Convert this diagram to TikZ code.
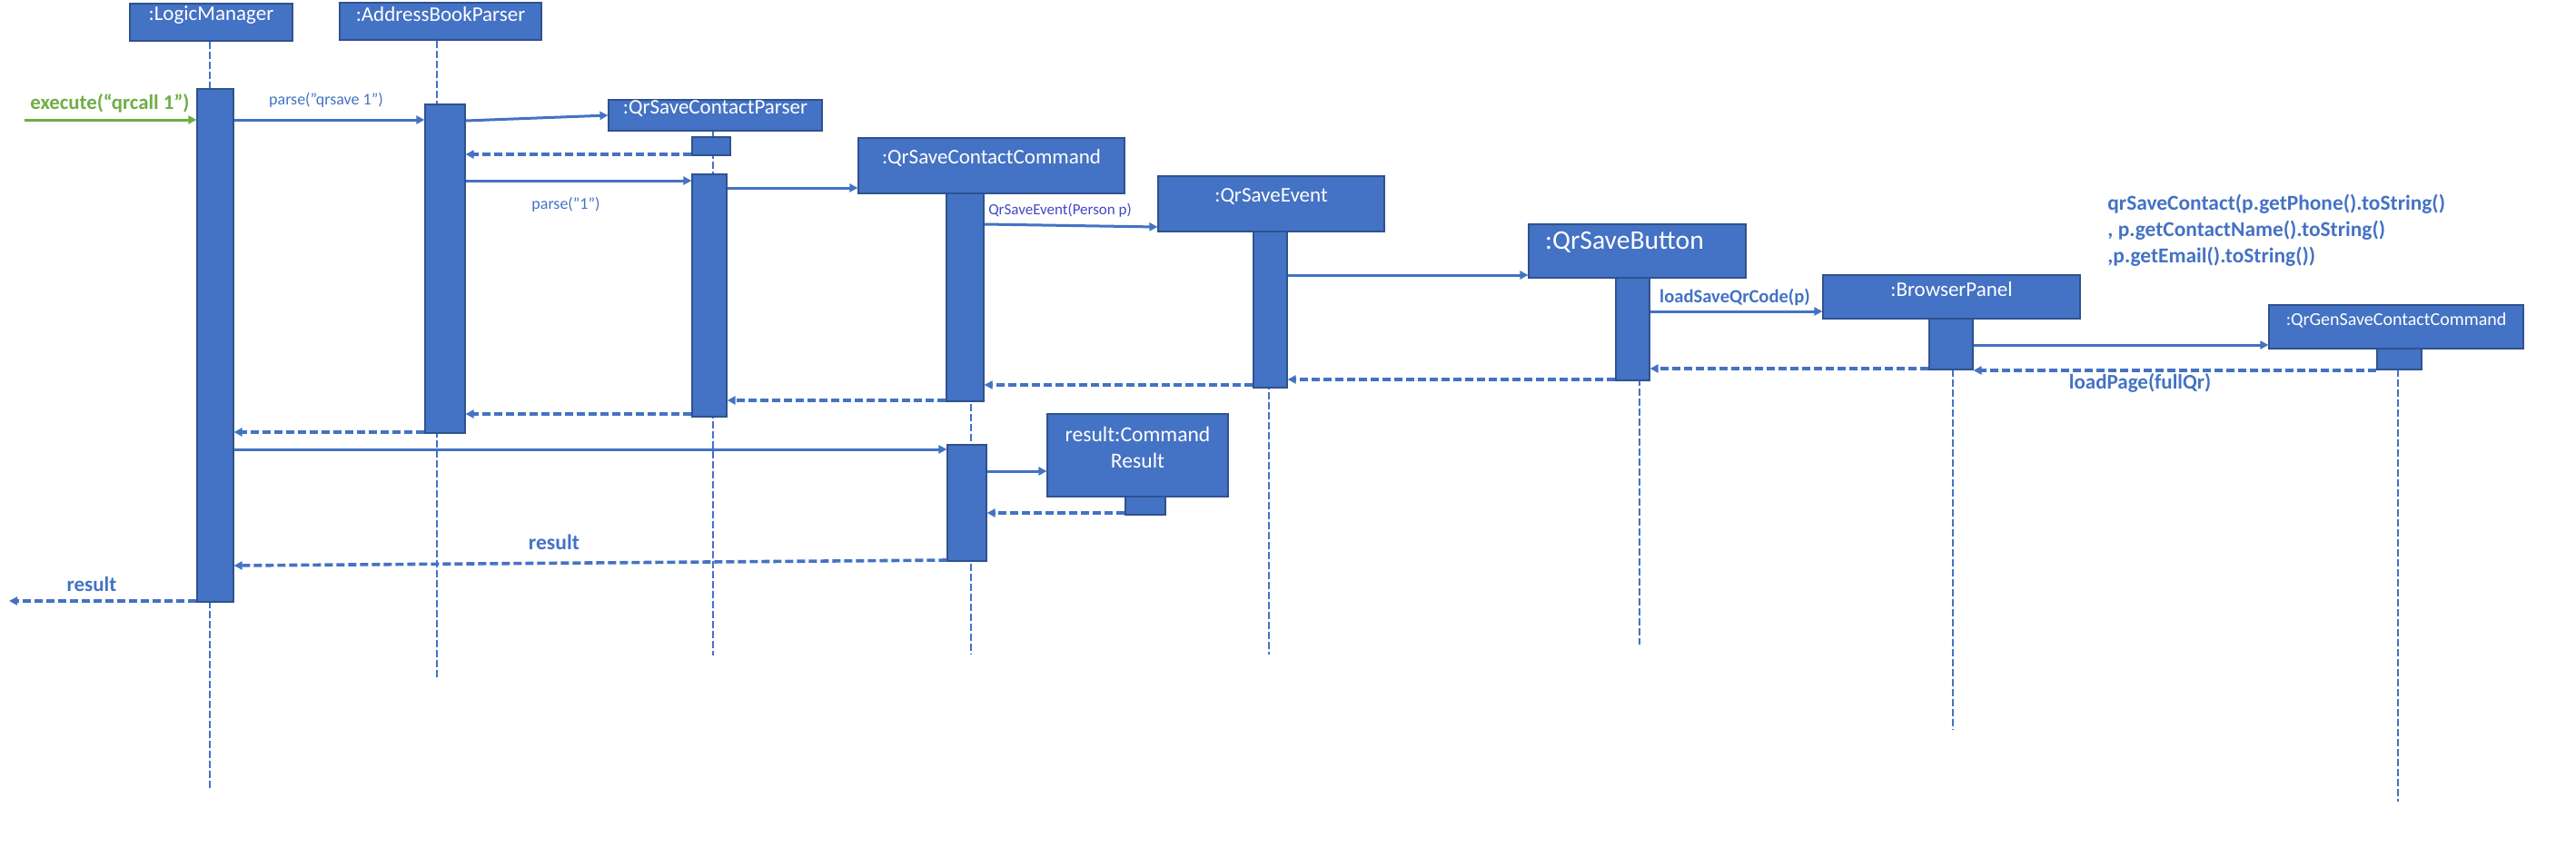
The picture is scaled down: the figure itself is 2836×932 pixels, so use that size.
\documentclass[tikz,border=0pt]{standalone}
\usepackage{fontspec}
\setmainfont{Carlito}
\usetikzlibrary{arrows.meta,fit}
\definecolor{obl}{HTML}{4472C4}
\definecolor{obd}{HTML}{2F528F}
\definecolor{ogr}{HTML}{70AD47}
\definecolor{evc}{HTML}{4348C8}
\begin{document}
\begin{tikzpicture}[x=0.5pt,y=-0.5pt,
  hdr/.style={draw=obd, fill=obl, line width=0.6pt, inner sep=0pt, text depth=0pt, text=white, font=\fontsize{11.5}{14}\selectfont},
  act/.style={draw=obd, fill=obl, line width=0.6pt, inner sep=0pt},
  life/.style={draw=obl, line width=1.1pt, dash pattern=on 4pt off 1.5pt},
  msg/.style={draw=obl, line width=1.5pt, -{Triangle[length=4.5pt,width=4.5pt]}},
  ret/.style={draw=obl, line width=1.8pt, dash pattern=on 4.5pt off 2pt, -{Triangle[length=4.5pt,width=4.5pt]}},
  lbl/.style={text=obl, font=\fontsize{9}{11}\selectfont, anchor=base, inner sep=0pt},
  blbl/.style={text=obl, font=\bfseries\fontsize{10.3}{12}\selectfont, anchor=base, inner sep=0pt},
]
\useasboundingbox (0,0) rectangle (2836,932);

% header boxes
\node[hdr, fit={(143,4)(322,45)}] (lm) {:LogicManager};
\node[hdr, fit={(374,3)(596,44)}] (abp) {:AddressBookParser};
\node[hdr, fit={(670,110)(905,144)}] (qscp) {:QrSaveContactParser};
\node[hdr, fit={(945,152)(1238,213)}] (qscc) {:QrSaveContactCommand};
\node[hdr, fit={(1275,194)(1524,255)}] (qse) {:QrSaveEvent};
\node[hdr, fit={(1683,247)(1922,306)}, font=\fontsize{14.8}{17}\selectfont] (qsb) {\kern-14pt:QrSaveButton};
\node[hdr, fit={(2007,303)(2290,351)}] (bp) {:BrowserPanel};
\node[hdr, fit={(2498,336)(2778,384)}, font=\fontsize{10}{12}\selectfont] (qrg) {:QrGenSaveContactCommand};
\node[hdr, fit={(1153,456)(1352,547)}, align=center, font=\fontsize{11.8}{14.5}\selectfont] (res) {result:Command\\Result};

% lifelines
\coordinate (lmEnd) at (231,868);
\coordinate (abpEnd) at (481,746);
\coordinate (qscpEnd) at (785,722);
\coordinate (qsccEnd) at (1069,721);
\coordinate (qseEnd) at (1397,721);
\coordinate (qsbEnd) at (1805,710);
\coordinate (bpEnd) at (2150,804);
\coordinate (qrgEnd) at (2640,883);
\draw[life] (lm.south -| lmEnd) -- (lmEnd);
\draw[life] (abp.south -| abpEnd) -- (abpEnd);
\draw[life] (qscp.south -| qscpEnd) -- (qscpEnd);
\draw[life] (qscc.south -| qsccEnd) -- (qsccEnd);
\draw[life] (qse.south -| qseEnd) -- (qseEnd);
\draw[life] (qsb.south -| qsbEnd) -- (qsbEnd);
\draw[life] (bp.south -| bpEnd) -- (bpEnd);
\draw[life] (qrg.south -| qrgEnd) -- (qrgEnd);

% activations
\node[act, fit={(217,98)(257,663)}] (lmA) {};
\node[act, fit={(468,115)(512,477)}] (abpA) {};
\node[act, fit={(762,151)(804,171)}] (qscpS) {};
\node[act, fit={(762,192)(800,459)}] (qscpA) {};
\node[act, fit={(1042,213)(1083,442)}] (qsccA) {};
\node[act, fit={(1043,490)(1086,618)}] (qsccB) {};
\node[act, fit={(1380,255)(1417,427)}] (qseA) {};
\node[act, fit={(1779,306)(1816,419)}] (qsbA) {};
\node[act, fit={(2124,351)(2172,407)}] (bpA) {};
\node[act, fit={(2617,384)(2666,407)}] (qrgA) {};
\node[act, fit={(1239,547)(1283,567)}] (resA) {};

% message levels
\foreach \v in {132,133,170,199,207,247,250,303,343,380,406,408,418,424,441,456,476,495,519,565,617,623,662}
  {\coordinate (y\v) at (0,\v);}
\coordinate (exStart) at (27,132);
\coordinate (leftEnd) at (10,662);

% messages
\draw[msg, draw=ogr] (exStart) -- (lmA.west |- y132);
\draw[msg] (lmA.east |- y132) -- (abpA.west |- y132);
\draw[msg] (abpA.east |- y133) -- (qscp.west);
\draw[ret] (qscpS.west |- y170) -- (abpA.east |- y170);
\draw[msg] (abpA.east |- y199) -- (qscpA.west |- y199);
\draw[msg] (qscpA.east |- y207) -- (qscc.west |- y207);
\draw[msg] (qsccA.east |- y247) -- (qse.west |- y250);
\draw[msg] (qseA.east |- y303) -- (qsb.west |- y303);
\draw[msg] (qsbA.east |- y343) -- (bp.west |- y343);
\draw[msg] (bpA.east |- y380) -- (qrg.west |- y380);
\draw[ret] (qrgA.west |- y408) -- (bpA.east |- y408);
\draw[ret] (bpA.west |- y406) -- (qsbA.east |- y406);
\draw[ret] (qsbA.west |- y418) -- (qseA.east |- y418);
\draw[ret] (qseA.west |- y424) -- (qsccA.east |- y424);
\draw[ret] (qsccA.west |- y441) -- (qscpA.east |- y441);
\draw[ret] (qscpA.west |- y456) -- (abpA.east |- y456);
\draw[ret] (abpA.west |- y476) -- (lmA.east |- y476);
\draw[msg] (lmA.east |- y495) -- (qsccB.west |- y495);
\draw[msg] (qsccB.east |- y519) -- (res.west |- y519);
\draw[ret] (resA.west |- y565) -- (qsccB.east |- y565);
\draw[ret] (qsccB.west |- y617) -- (lmA.east |- y623);
\draw[ret] (lmA.west |- y662) -- (leftEnd);

% labels
\node[lbl, text=ogr, font=\bfseries\fontsize{11.4}{13}\selectfont] (exL) at (121,120) {execute(“qrcall 1”)};
\node[lbl] (p1L) at (359,115) {parse("qrsave 1")};
\node[lbl] (p2L) at (623,230) {parse("1")};
\node[lbl, text=evc, font=\fontsize{8.5}{10}\selectfont] (evL) at (1167,236) {QrSaveEvent(Person p)};
\node[blbl] (lsL) at (1910,333) {loadSaveQrCode(p)};
\node[blbl, anchor=base west, align=left, font=\bfseries\fontsize{11.7}{14.5}\selectfont] (qcL) at (2320,289) {qrSaveContact(p.getPhone().toString()\\, p.getContactName().toString()\\,p.getEmail().toString())};
\node[blbl, font=\bfseries\fontsize{11.5}{13}\selectfont] (lpL) at (2356,428) {loadPage(fullQr)};
\node[blbl, font=\bfseries\fontsize{11.8}{13}\selectfont] (r1L) at (610,605) {result};
\node[blbl, font=\bfseries\fontsize{11.5}{13}\selectfont] (r2L) at (101,651) {result};
\end{tikzpicture}
\end{document}
